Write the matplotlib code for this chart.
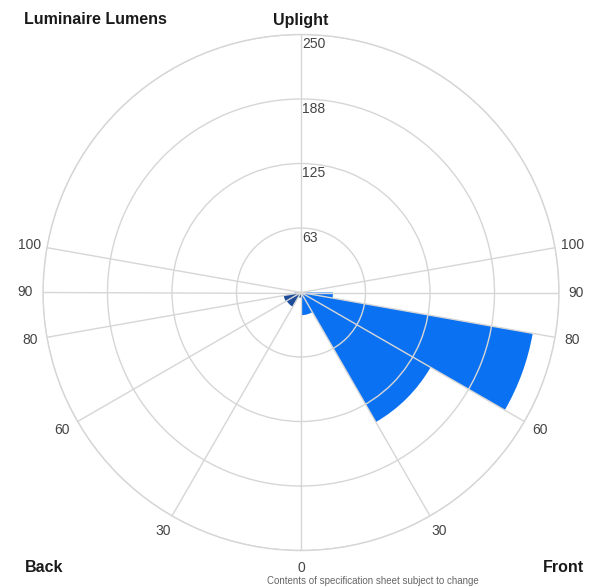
import numpy as np
import matplotlib
matplotlib.use("Agg")
import matplotlib.pyplot as plt

# zonal lumens, angle zones measured from nadir (deg)
zone_lo = [0, 30, 60, 80, 90, 100]
zone_hi = [30, 60, 80, 90, 100, 180]
front_lm = [22, 145, 228, 31, 0, 0]
back_lm = [5, 16, 17, 6, 0, 0]

ring_vals = [62.5, 125, 187.5, 250]
ring_labels = ["63", "125", "188", "250"]
spoke_angles = [0, 30, 60, 80, 90, 100]

FRONT_COLOR = "#0A72F2"
BACK_COLOR = "#1C4C9A"
GRID_COLOR = "#D6D6D6"
SANS = ["Liberation Sans", "DejaVu Sans"]

W, H = 589, 587
fig = plt.figure(figsize=(W / 100, H / 100), dpi=100)

cx, cy, R = 301, 292.5, 258
ax = fig.add_axes([(cx - R) / W, (H - cy - R) / H, 2 * R / W, 2 * R / H],
                  projection="polar")
ax.set_theta_zero_location("S")
ax.set_theta_direction(1)
ax.set_ylim(0, 250)

lo = np.radians(zone_lo)
hi = np.radians(zone_hi)
width = hi - lo
ax.bar(lo, front_lm, width=width, align="edge", color=FRONT_COLOR,
       edgecolor="none", zorder=1)
ax.bar(-lo, back_lm, width=-width, align="edge", color=BACK_COLOR,
       edgecolor="none", zorder=1)

# grid
ax.set_axisbelow(False)
all_spokes = sorted(set(spoke_angles + [360 - a for a in spoke_angles[1:]] + [180]))
ax.set_thetagrids(all_spokes, labels=[""] * len(all_spokes))
ax.set_rgrids(ring_vals, labels=[""] * len(ring_vals))
ax.grid(True, color=GRID_COLOR, linewidth=1.0)
ax.spines["polar"].set_color(GRID_COLOR)
ax.spines["polar"].set_linewidth(1.0)
ax.tick_params(length=0)

# ring labels along the upward axis
for r, lab in zip(ring_vals, ring_labels):
    ax.annotate(lab, xy=(np.pi, r), xytext=(1, -2), textcoords="offset points",
                ha="left", va="top", fontsize=10, family=SANS, color="#444444",
                annotation_clip=False)

# spoke labels
for a in spoke_angles:
    sides = [a] if a == 0 else [a, -a]
    for s in sides:
        ax.text(np.radians(s), 267, str(a), ha="center", va="center",
                fontsize=10, family=SANS, color="#444444", clip_on=False)

bold = dict(fontsize=11.5, fontweight="bold", family=SANS, color="#1a1a1a")
fig.text(24 / W, 1 - 20 / H, "Luminaire Lumens", ha="left", va="center", **bold)
fig.text(cx / W, 1 - 20 / H, "Uplight", ha="center", va="center", **bold)
fig.text(25 / W, 1 - 568 / H, "Back", ha="left", va="center", **bold)
fig.text(584 / W, 1 - 568 / H, "Front", ha="right", va="center", **bold)

fig.text(267 / W, 1 / H, "Contents of specification sheet subject to change",
         ha="left", va="bottom", fontsize=7, color="#666666", family=SANS)

fig.savefig("out.png", dpi=100)
